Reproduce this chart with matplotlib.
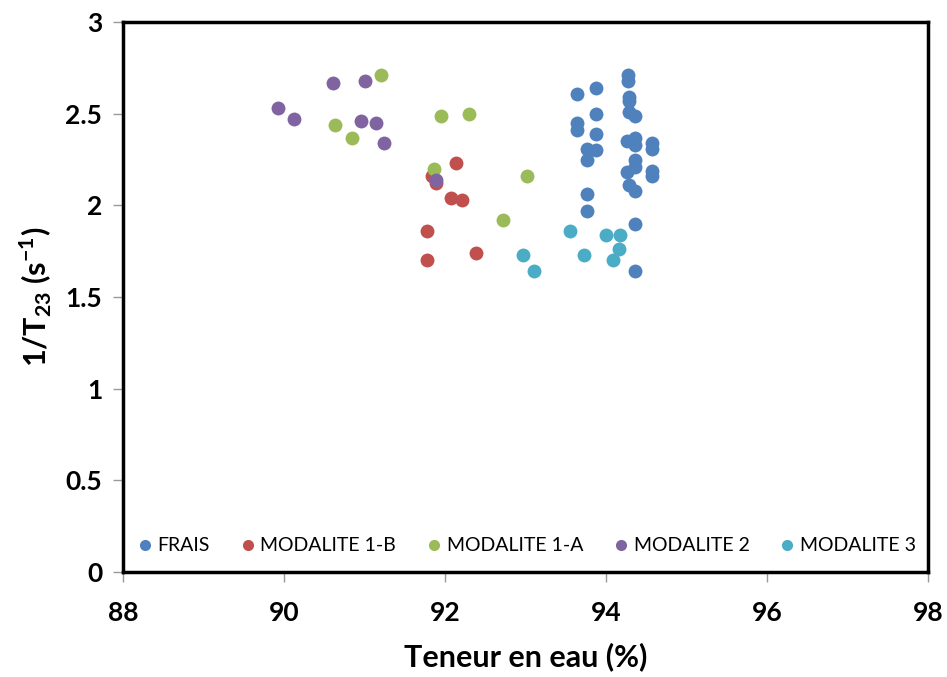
import matplotlib
matplotlib.use('Agg')
import matplotlib.pyplot as plt

plt.rcParams['font.family'] = ['Lato', 'DejaVu Sans']
plt.rcParams['mathtext.fontset'] = 'custom'
plt.rcParams['mathtext.rm'] = 'Lato'
plt.rcParams['mathtext.bf'] = 'Lato:bold'

# data
frais_x = [94.27, 94.27, 93.64, 93.88, 94.29, 94.29, 93.88, 94.29, 94.36, 93.64,
           93.64, 93.88, 94.26, 94.36, 94.36, 94.57, 94.57, 93.76, 93.88, 93.76,
           94.36, 94.36, 94.26, 94.57, 94.57, 94.29, 94.36, 93.76, 93.76, 94.36, 94.36]
frais_y = [2.71, 2.68, 2.61, 2.64, 2.59, 2.57, 2.50, 2.51, 2.49, 2.45,
           2.41, 2.39, 2.35, 2.37, 2.33, 2.34, 2.31, 2.31, 2.30, 2.25,
           2.25, 2.21, 2.18, 2.19, 2.16, 2.11, 2.08, 2.06, 1.97, 1.90, 1.64]

mod1b_x = [92.14, 91.84, 91.89, 92.08, 92.21, 91.78, 91.78, 92.38]
mod1b_y = [2.23, 2.16, 2.12, 2.04, 2.03, 1.86, 1.70, 1.74]

mod1a_x = [91.21, 90.63, 90.85, 91.95, 92.30, 91.86, 93.02, 92.72]
mod1a_y = [2.71, 2.44, 2.37, 2.49, 2.50, 2.20, 2.16, 1.92]

mod2_x = [90.61, 91.00, 89.93, 90.12, 90.96, 91.14, 91.24, 91.89]
mod2_y = [2.67, 2.68, 2.53, 2.47, 2.46, 2.45, 2.34, 2.14]

mod3_x = [93.55, 94.00, 94.17, 94.16, 94.09, 93.73, 92.97, 93.11]
mod3_y = [1.86, 1.84, 1.84, 1.76, 1.70, 1.73, 1.73, 1.64]

series = [
    ("FRAIS", frais_x, frais_y, "#4F81BD"),
    ("MODALITE 1-B", mod1b_x, mod1b_y, "#C0504D"),
    ("MODALITE 1-A", mod1a_x, mod1a_y, "#9BBB59"),
    ("MODALITE 2", mod2_x, mod2_y, "#8064A2"),
    ("MODALITE 3", mod3_x, mod3_y, "#4BACC6"),
]

fig = plt.figure(figsize=(9.47, 6.77), dpi=100)
ax = fig.add_axes([0.1299, 0.1551, 0.85, 0.8124])

for name, xs, ys, col in series:
    ax.plot(xs, ys, 'o', color=col, markersize=10, markeredgewidth=0, label=name)

ax.set_xlim(88, 98)
ax.set_ylim(0, 3)
ax.set_xticks([88, 90, 92, 94, 96, 98])
ax.set_yticks([0, 0.5, 1, 1.5, 2, 2.5, 3])
ax.set_yticklabels(['0', '0.5', '1', '1.5', '2', '2.5', '3'])

for s in ax.spines.values():
    s.set_linewidth(2.5)
    s.set_color('black')

ax.tick_params(axis='both', direction='out', length=7, width=1, color='#999999',
               labelsize=19, pad=8)
ax.tick_params(top=False, right=False)
for lab in ax.get_xticklabels() + ax.get_yticklabels():
    lab.set_fontweight('bold')
ax.tick_params(axis='x', pad=14)

ax.set_xlabel('Teneur en eau (%)', fontsize=22, fontweight='bold', labelpad=12)
ax.set_ylabel(r'1/T$_{\mathbf{23}}$ (s$^{\mathbf{-1}}$)', fontsize=22, fontweight='bold', labelpad=8)

ax.legend(loc='lower center', ncol=5, frameon=False, fontsize=14, markerscale=0.8,
          handletextpad=0.15, columnspacing=1.45, handlelength=1.0,
          bbox_to_anchor=(0.5, 0.0))

fig.savefig('out.png', dpi=100)
